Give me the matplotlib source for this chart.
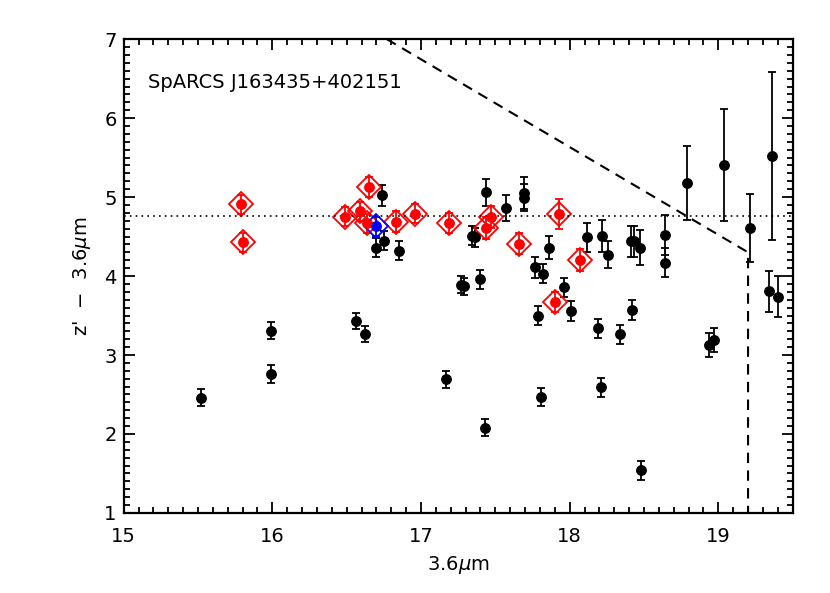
import numpy as np
import matplotlib
matplotlib.use('Agg')
import matplotlib.pyplot as plt
from matplotlib.ticker import MultipleLocator

# punti neri (tutti gli oggetti)
xb = [15.52, 15.99, 15.99, 16.56, 16.62, 16.70, 16.74, 16.75, 16.85, 17.17,
      17.27, 17.29, 17.34, 17.36, 17.40, 17.43, 17.44, 17.57, 17.69, 17.69,
      17.77, 17.79, 17.81, 17.82, 17.86, 17.96, 18.01, 18.12, 18.19, 18.21,
      18.22, 18.26, 18.34, 18.41, 18.43, 18.42, 18.47, 18.48, 18.64, 18.64,
      18.79, 18.94, 18.97, 19.04, 19.21, 19.34, 19.36, 19.40]
yb = [2.46, 3.31, 2.76, 3.43, 3.27, 4.36, 5.02, 4.45, 4.32, 2.69,
      3.89, 3.87, 4.51, 4.49, 3.96, 2.08, 5.06, 4.86, 5.05, 4.99,
      4.11, 3.50, 2.47, 4.03, 4.36, 3.86, 3.56, 4.49, 3.34, 2.59,
      4.51, 4.27, 3.26, 4.44, 4.44, 3.57, 4.36, 1.54, 4.52, 4.17,
      5.18, 3.13, 3.19, 5.41, 4.61, 3.81, 5.52, 3.74]
eb = [0.11, 0.11, 0.11, 0.10, 0.10, 0.12, 0.13, 0.12, 0.12, 0.11,
      0.11, 0.11, 0.12, 0.12, 0.12, 0.11, 0.17, 0.16, 0.20, 0.17,
      0.13, 0.12, 0.11, 0.12, 0.15, 0.12, 0.13, 0.18, 0.12, 0.12,
      0.20, 0.17, 0.12, 0.20, 0.20, 0.13, 0.22, 0.12, 0.25, 0.18,
      0.47, 0.15, 0.15, 0.71, 0.43, 0.26, 1.06, 0.26]

# membri (rossi)
xr = [15.79, 15.80, 16.49, 16.59, 16.65, 16.64, 16.83, 16.96, 17.19, 17.44,
      17.47, 17.66, 17.90, 17.93, 18.07]
yr = [4.91, 4.43, 4.75, 4.82, 5.13, 4.67, 4.69, 4.79, 4.67, 4.61,
      4.75, 4.41, 3.67, 4.78, 4.20]
er = [0.12, 0.12, 0.12, 0.12, 0.13, 0.12, 0.13, 0.12, 0.13, 0.14,
      0.14, 0.13, 0.13, 0.19, 0.14]

# BCG (blu)
xblu = [16.70]
yblu = [4.63]
eblu = [0.12]

# sequenza rossa e limite
rs = 4.76
xlim_line = [16.77, 19.20, 19.20]
ylim_line = [7.0, 4.30, 1.0]

plt.rcParams['font.family'] = 'DejaVu Sans'
fig = plt.figure(figsize=(8.3, 5.93), dpi=100)
ax = fig.add_axes([0.149, 0.135, 0.806, 0.799])

ax.errorbar(xb, yb, yerr=eb, fmt='o', color='black', ms=6.8, elinewidth=1.3,
            capsize=3, capthick=1.3)
ax.errorbar(xr, yr, yerr=er, fmt='o', color='red', ms=6.8, elinewidth=1.3,
            capsize=3, capthick=1.3)
ax.plot(xr, yr, 'D', ms=12.5, mfc='none', mec='red', mew=1.3)
ax.errorbar(xblu, yblu, yerr=eblu, fmt='o', color='blue', ms=6.8, elinewidth=1.3,
            capsize=3, capthick=1.3)
ax.plot(xblu, yblu, 'D', ms=12.5, mfc='none', mec='blue', mew=1.3)

ax.axhline(rs, color='black', ls=(0, (1, 2.5)), lw=1.2)
ax.plot(xlim_line, ylim_line, color='black', ls=(0, (5, 3.5)), lw=1.5)

ax.set_xlim(15, 19.5)
ax.set_ylim(1, 7)
ax.xaxis.set_major_locator(MultipleLocator(1))
ax.xaxis.set_minor_locator(MultipleLocator(0.1))
ax.yaxis.set_major_locator(MultipleLocator(1))
ax.yaxis.set_minor_locator(MultipleLocator(0.1))
ax.tick_params(which='both', direction='in', top=True, right=True, width=1.3)
ax.tick_params(which='major', length=8, labelsize=14)
ax.tick_params(which='minor', length=4)
ax.tick_params(axis='x', which='major', pad=10)
ax.tick_params(axis='y', which='major', pad=5)
for s in ax.spines.values():
    s.set_linewidth(1.6)

ax.set_xlabel(r'3.6$\mu$m', fontsize=14, labelpad=6)
ax.set_ylabel(r"z'  $-$  3.6$\mu$m", fontsize=14, labelpad=8)
ax.text(0.036, 0.909, 'SpARCS J163435+402151', transform=ax.transAxes,
        fontsize=14, va='center', ha='left')

plt.savefig('out.png', dpi=100)
